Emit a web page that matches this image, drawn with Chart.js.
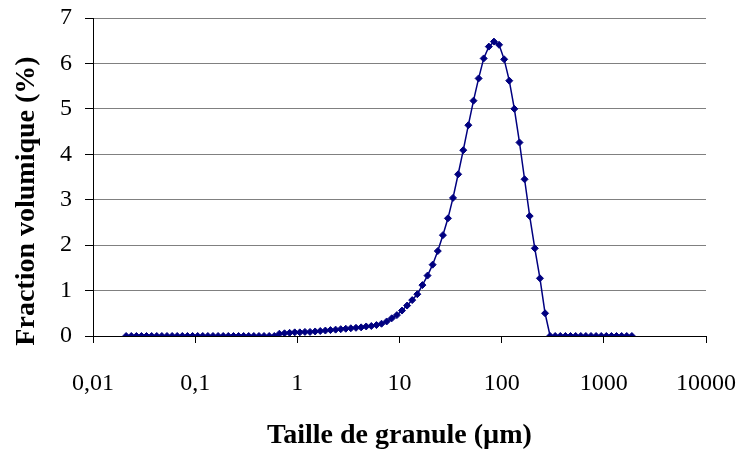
<!DOCTYPE html>
<html>
<head>
<meta charset="utf-8">
<script src="https://cdn.jsdelivr.net/npm/chart.js@4/dist/chart.umd.min.js"></script>
<style>
  html, body { margin: 0; padding: 0; background: #fff; }
  #wrap { width: 741px; height: 453px; }
</style>
</head>
<body>
<div id="wrap"><canvas id="chart" width="741" height="453"></canvas></div>
<script>
// grain size classes (µm), one per measured point
const sizes = [
  0.0211, 0.0237, 0.0266, 0.0298, 0.0334, 0.0375, 0.0421, 0.0472, 0.0530, 0.0595,
  0.0667, 0.0749, 0.0840, 0.0943, 0.1058, 0.1187, 0.1331, 0.1494, 0.1676, 0.1881,
  0.211, 0.237, 0.266, 0.298, 0.334, 0.375, 0.421, 0.472, 0.530, 0.595,
  0.667, 0.749, 0.840, 0.943, 1.058, 1.187, 1.331, 1.494, 1.676, 1.881,
  2.11, 2.37, 2.66, 2.98, 3.34, 3.75, 4.21, 4.72, 5.30, 5.95,
  6.67, 7.49, 8.40, 9.43, 10.58, 11.87, 13.31, 14.94, 16.76, 18.81,
  21.1, 23.7, 26.6, 29.8, 33.4, 37.5, 42.1, 47.2, 53.0, 59.5,
  66.7, 74.9, 84.0, 94.3, 105.8, 118.7, 133.1, 149.4, 167.6, 188.1,
  211, 237, 266, 298, 334, 375, 421, 472, 530, 595,
  667, 749, 840, 943, 1058, 1187, 1331, 1494, 1676, 1881
];

// volume fraction (%) for each size class
const fractions = [
  0, 0, 0, 0, 0, 0, 0, 0, 0, 0,
  0, 0, 0, 0, 0, 0, 0, 0, 0, 0,
  0, 0, 0, 0, 0, 0, 0, 0, 0, 0,
  0.05, 0.06, 0.07, 0.08, 0.08, 0.09, 0.09, 0.10, 0.11, 0.12,
  0.13, 0.14, 0.15, 0.16, 0.17, 0.18, 0.19, 0.21, 0.22, 0.24,
  0.27, 0.32, 0.39, 0.46, 0.56, 0.67, 0.79, 0.92, 1.12, 1.33,
  1.57, 1.87, 2.22, 2.59, 3.04, 3.56, 4.09, 4.64, 5.18, 5.67,
  6.11, 6.37, 6.48, 6.41, 6.09, 5.62, 5.00, 4.26, 3.45, 2.64,
  1.93, 1.27, 0.50, 0, 0, 0, 0, 0, 0, 0,
  0, 0, 0, 0, 0, 0, 0, 0, 0, 0
];

const xTicks = [0.01, 0.1, 1, 10, 100, 1000, 10000];
const xTickLabels = ['0,01', '0,1', '1', '10', '100', '1000', '10000'];

const xTitle = 'Taille de granule (µm)';
const yTitle = 'Fraction volumique (%)';

const serif = '"Liberation Serif", "Times New Roman", serif';

// y title sits a bit below the plot centre in the original, so draw it by hand
const yTitlePlugin = {
    id: 'yTitle',
    afterDraw(chart) {
        const ctx = chart.ctx;
        ctx.save();
        ctx.translate(27, 201);
        ctx.rotate(-Math.PI / 2);
        ctx.font = 'bold 28px ' + serif;
        ctx.fillStyle = '#000';
        ctx.textAlign = 'center';
        ctx.textBaseline = 'middle';
        ctx.fillText(yTitle, 0, 0);
        ctx.restore();
    }
};

const ctx = document.getElementById('chart').getContext('2d');
new Chart(ctx, {
    type: 'line',
    data: {
        datasets: [{
            data: sizes.map((s, i) => ({ x: s, y: fractions[i] })),
            borderColor: '#000080',
            backgroundColor: '#000080',
            borderWidth: 1.5,
            pointStyle: 'rectRot',
            pointRadius: 3.5,
            pointBorderWidth: 1,
            tension: 0,
            fill: false,
        }],
    },
    options: {
        responsive: false,
        animation: false,
        layout: {
            padding: { top: 18, right: 35, bottom: 0, left: 0 },
        },
        plugins: {
            legend: { display: false },
            tooltip: { enabled: false },
        },
        scales: {
            x: {
                type: 'logarithmic',
                min: 0.01,
                max: 10000,
                afterBuildTicks: (scale) => {
                    scale.ticks = xTicks.map(v => ({ value: v }));
                },
                afterFit: (scale) => {
                    scale.height = 117;
                    scale.paddingLeft = 0;
                    scale.paddingRight = 0;
                },
                grid: {
                    display: true,
                    drawOnChartArea: false,
                    drawTicks: true,
                    tickLength: 7,
                    tickColor: '#000',
                },
                border: { color: '#000', width: 1 },
                ticks: {
                    autoSkip: false,
                    maxRotation: 0,
                    padding: 26,
                    color: '#000',
                    font: { size: 24, family: serif },
                    callback: (v) => {
                        const i = xTicks.indexOf(v);
                        return i >= 0 ? xTickLabels[i] : '';
                    },
                },
                title: {
                    display: true,
                    text: xTitle,
                    color: '#000',
                    font: { size: 28, weight: 'bold', family: serif },
                    padding: { top: 0, bottom: 0 },
                },
            },
            y: {
                min: 0,
                max: 7,
                afterFit: (scale) => {
                    scale.width = 93;
                    scale.paddingTop = 0;
                    scale.paddingBottom = 0;
                },
                grid: {
                    color: '#808080',
                    lineWidth: 1,
                    tickLength: 8,
                    tickColor: '#000',
                },
                border: { color: '#000', width: 1 },
                ticks: {
                    stepSize: 1,
                    padding: 13,
                    color: '#000',
                    font: { size: 24, family: serif },
                },
            },
        },
    },
    plugins: [yTitlePlugin],
});
</script>
</body>
</html>
